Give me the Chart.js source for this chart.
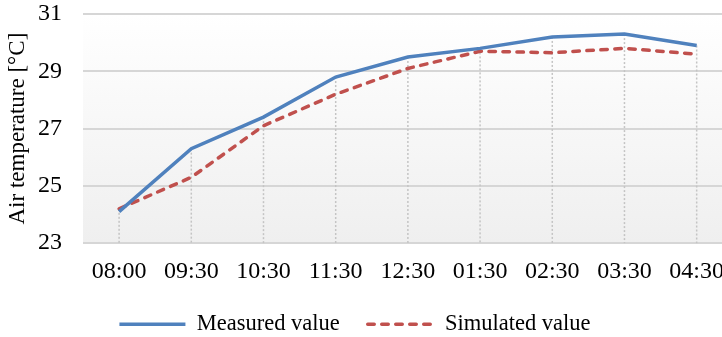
<!DOCTYPE html>
<html>
<head>
<meta charset="utf-8">
<script src="https://cdn.jsdelivr.net/npm/chart.js@4"></script>
<style>
  html, body { margin: 0; padding: 0; background: #fff; overflow: hidden; }
  .chart-container { width: 738px; height: 337px; }
</style>
</head>
<body>
<div class="chart-container">
  <canvas id="myChart" width="738" height="337"></canvas>
</div>
<script>
const labels = ['08:00', '09:30', '10:30', '11:30', '12:30', '01:30', '02:30', '03:30', '04:30'];
const measured = [24.1, 26.3, 27.4, 28.8, 29.5, 29.8, 30.2, 30.3, 29.9];
const simulated = [24.2, 25.3, 27.1, 28.2, 29.1, 29.7, 29.65, 29.8, 29.6];
const yTicks = [23, 25, 27, 29, 31];

const serif = "'Liberation Serif', 'Times New Roman', serif";

// gradient fill behind the plot + drop lines from the top series down to the axis
const plotBackground = {
  id: 'plotBackground',
  afterLayout(chart) {
    // nudge the legend a little left and up, like the original
    chart.legend.right -= 28;
    chart.legend.top -= 15;
  },
  beforeDraw(chart) {
    const { ctx, chartArea } = chart;
    const g = ctx.createLinearGradient(0, chartArea.top, 0, chartArea.bottom);
    g.addColorStop(0, '#ffffff');
    g.addColorStop(1, '#efefef');
    ctx.save();
    ctx.fillStyle = g;
    ctx.fillRect(chartArea.left, chartArea.top, chartArea.right - chartArea.left, chartArea.bottom - chartArea.top);
    ctx.restore();
  },
  beforeDatasetsDraw(chart) {
    const { ctx, scales } = chart;
    ctx.save();
    ctx.strokeStyle = '#c4c4c4';
    ctx.lineWidth = 1.5;
    ctx.setLineDash([2, 2]);
    labels.forEach((l, i) => {
      const x = scales.x.getPixelForValue(i);
      const top = scales.y.getPixelForValue(Math.max(measured[i], simulated[i]));
      ctx.beginPath();
      ctx.moveTo(x, top);
      ctx.lineTo(x, scales.y.getPixelForValue(yTicks[0]));
      ctx.stroke();
    });
    ctx.restore();
  }
};

new Chart(document.getElementById('myChart'), {
  type: 'line',
  data: {
    labels: labels,
    datasets: [
      {
        label: 'Measured value',
        data: measured,
        borderColor: '#4f81bd',
        backgroundColor: '#4f81bd',
        borderWidth: 3.5,
        pointRadius: 0,
        tension: 0
      },
      {
        label: 'Simulated value',
        data: simulated,
        borderColor: '#c0504d',
        backgroundColor: '#c0504d',
        borderWidth: 3.5,
        borderDash: [6.5, 7.5],
        borderCapStyle: 'round',
        pointRadius: 0,
        tension: 0
      }
    ]
  },
  options: {
    responsive: false,
    animation: false,
    layout: { padding: 0 },
    scales: {
      x: {
        type: 'category',
        offset: true,
        grid: { display: false, drawTicks: false },
        border: { display: false },
        ticks: { color: '#000', padding: 14, font: { family: serif, size: 24 }, maxRotation: 0, autoSkip: false }
      },
      y: {
        min: 23,
        max: 31,
        afterBuildTicks: (scale) => { scale.ticks = yTicks.map(v => ({ value: v })); },
        grid: { color: '#d6d6d6', lineWidth: 2, drawTicks: false },
        border: { display: false },
        ticks: { color: '#000', padding: 21, font: { family: serif, size: 24 } },
        title: {
          display: true,
          text: 'Air temperature [°C]',
          color: '#000',
          font: { family: serif, size: 23 },
          padding: { top: 4, bottom: 0 }
        },
        afterFit: (scale) => {
          scale.width = 83;
          scale.paddingTop = 14;
        }
      }
    },
    plugins: {
      legend: {
        position: 'bottom',
        maxHeight: 37,
        labels: {
          color: '#000',
          font: { family: serif, size: 22.5 },
          usePointStyle: true,
          pointStyle: 'line',
          pointStyleWidth: 66,
          boxHeight: 20,
          padding: 28,
          generateLabels: (chart) => {
            const items = Chart.defaults.plugins.legend.labels.generateLabels(chart);
            items.forEach(item => {
              const ds = chart.data.datasets[item.datasetIndex];
              item.lineDash = ds.borderDash || [];
              item.lineCap = ds.borderCapStyle || 'butt';
              item.lineWidth = ds.borderWidth;
            });
            return items;
          }
        }
      },
      tooltip: { enabled: false }
    }
  },
  plugins: [plotBackground]
});
</script>
</body>
</html>
